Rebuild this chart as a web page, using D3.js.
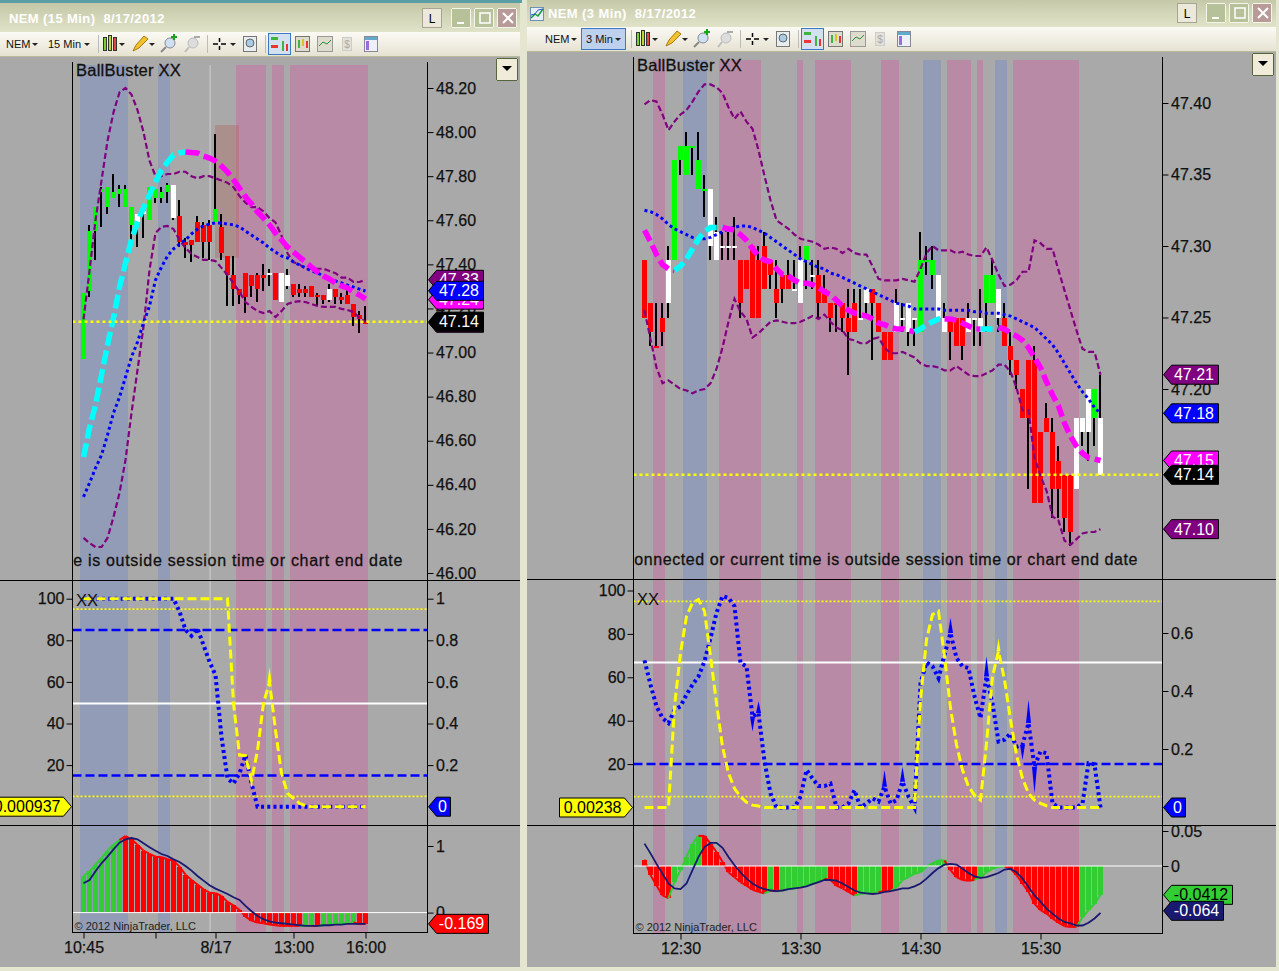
<!DOCTYPE html>
<html>
<head>
<meta charset="utf-8">
<title>NEM charts</title>
<script src="https://d3js.org/d3.v7.min.js"></script>
<style>
  html, body { margin: 0; padding: 0; background: #eef0e0; overflow: hidden; }
  svg { display: block; font-family: "Liberation Sans", Arial, sans-serif; }
  .axis text { font-size: 16px; fill: #111; stroke: #111; stroke-width: 0.25px; }
  .axis line { stroke: #000; }
  .axis path { display: none; }
  .note { stroke: #111; stroke-width: 0.3px; }
</style>
</head>
<body>
<svg id="chart" width="1279" height="971"></svg>
<script>
// ---------- 15 min chart data (one value per bar, 10:45 -> 16:00) ----------
const trend15 = "uuuuuuuuu" + "nn" + "uuuu" + "n" + "dddddd" + "u" + "dddddddd" + "n" + "d" + "nn" + "dddddd" + "n" + "dddddd";
const bodyHi15 = [47.27,47.55,47.66,47.74,47.75,47.73,47.74,47.74,47.66,47.63,47.64,47.75,47.74,47.73,47.76,47.76,47.62,47.50,47.51,47.59,47.58,47.58,47.65,47.57,47.44,47.35,47.29,47.36,47.35,47.35,47.35,47.36,47.36,47.36,47.35,47.31,47.29,47.29,47.30,47.26,47.26,47.29,47.29,47.25,47.26,47.22,47.17,47.14];
const bodyLo15 = [46.97,47.28,47.55,47.73,47.66,47.70,47.72,47.66,47.58,47.59,47.63,47.60,47.70,47.70,47.73,47.61,47.50,47.49,47.49,47.50,47.50,47.50,47.59,47.45,47.35,47.29,47.26,47.25,47.30,47.29,47.34,47.35,47.24,47.23,47.30,47.26,47.27,47.27,47.25,47.25,47.24,47.24,47.25,47.24,47.22,47.16,47.15,47.13];
const high15 = [47.27,47.58,47.66,47.75,47.75,47.81,47.76,47.76,47.66,47.63,47.64,47.75,47.74,47.75,47.77,47.76,47.69,47.52,47.51,47.62,47.59,47.60,47.99,47.63,47.44,47.44,47.29,47.36,47.35,47.36,47.40,47.38,47.36,47.36,47.38,47.31,47.31,47.30,47.30,47.27,47.26,47.31,47.29,47.27,47.29,47.22,47.19,47.21];
const low15 = [46.97,47.25,47.42,47.57,47.63,47.70,47.66,47.66,47.51,47.48,47.52,47.60,47.68,47.68,47.68,47.60,47.48,47.43,47.41,47.50,47.43,47.42,47.59,47.42,47.21,47.21,47.22,47.18,47.25,47.23,47.28,47.30,47.24,47.23,47.29,47.25,47.25,47.25,47.25,47.21,47.22,47.23,47.22,47.22,47.22,47.12,47.09,47.13];
const upper15 = [47.15,47.37,47.60,47.78,47.96,48.09,48.18,48.20,48.17,48.10,48.00,47.87,47.80,47.80,47.81,47.81,47.82,47.82,47.80,47.79,47.80,47.80,47.79,47.78,47.77,47.75,47.71,47.68,47.66,47.66,47.64,47.61,47.59,47.53,47.45,47.41,47.40,47.38,47.38,47.38,47.38,47.37,47.36,47.34,47.34,47.32,47.32,47.33];
const lower15 = [46.159,46.136,46.118,46.118,46.159,46.254,46.363,46.513,46.726,46.921,47.116,47.374,47.542,47.570,47.574,47.560,47.511,47.474,47.447,47.433,47.420,47.420,47.415,47.384,47.352,47.315,47.275,47.229,47.207,47.188,47.179,47.188,47.161,47.188,47.220,47.229,47.233,47.229,47.220,47.211,47.207,47.207,47.207,47.198,47.193,47.184,47.157,47.139];
const slowMa15 = [46.345,46.408,46.476,46.535,46.626,46.726,46.798,46.889,46.98,47.048,47.134,47.211,47.329,47.388,47.438,47.47,47.492,47.511,47.538,47.56,47.574,47.583,47.588,47.588,47.583,47.579,47.57,47.551,47.533,47.515,47.497,47.474,47.456,47.438,47.429,47.411,47.397,47.384,47.37,47.361,47.347,47.334,47.325,47.316,47.306,47.297,47.288,47.279];
const fastMa15 = [46.526,46.658,46.762,46.898,47.034,47.157,47.297,47.406,47.511,47.592,47.656,47.715,47.774,47.828,47.864,47.896,47.905,47.91,47.907,47.905,47.891,47.882,47.869,47.846,47.819,47.783,47.746,47.706,47.674,47.638,47.61,47.579,47.542,47.511,47.479,47.456,47.433,47.411,47.388,47.365,47.347,47.334,47.316,47.302,47.293,47.275,47.261,47.243];
const risingRanges15 = [[0, 17]];
const stochK15 = [100,100,100,100,100,100,100,100,100,100,100,100,100,100,100,100,93.8,85,82.2,85.7,77.7,69.7,63.3,33.6,13.6,11.2,16,24.8,11.2,0,0,0,0,0,0,0,0,0,0,0,0,0,0,0,0,0,0,0];
const stochD15 = [100,100,100,100,100,100,100,100,100,100,100,100,100,100,100,100,100,100,100,100,100,100,100,100,100,49.7,24.8,24.5,12.5,27,49.7,60,36.8,16,6.4,4,1.6,0.6,0,0,0,0,0,0,0,0,0,0];
const stochKTips15 = [];
const stochDTips15 = [[31, 67]];
const macdHist15 = [0.55,0.62,0.72,0.82,0.93,1.02,1.09,1.15,1.10,1.02,0.93,0.88,0.84,0.83,0.80,0.78,0.69,0.57,0.49,0.42,0.35,0.30,0.29,0.25,0.16,0.11,0.04,-0.06,-0.12,-0.15,-0.16,-0.18,-0.19,-0.20,-0.20,-0.20,-0.20,-0.20,-0.20,-0.20,-0.19,-0.18,-0.17,-0.16,-0.16,-0.15,-0.17,-0.169];
const macdUp15 = "uuuuuuu" + "dddddddddddddddddddddddddddddd" + "uu" + "d" + "uuuuuu" + "dd";
const macdLine15 = [0.44,0.49,0.62,0.74,0.84,0.95,1.05,1.10,1.12,1.10,1.04,0.98,0.93,0.88,0.85,0.80,0.76,0.70,0.63,0.55,0.48,0.41,0.36,0.32,0.28,0.23,0.19,0.10,0.02,-0.05,-0.10,-0.13,-0.15,-0.16,-0.17,-0.18,-0.19,-0.20,-0.20,-0.20,-0.19,-0.19,-0.18,-0.18,-0.17,-0.17,-0.17,-0.17];
const blueBands15 = [[-0.5, 7.5], [12.5, 14.5]];
const pinkBands15 = [[25.5, 30.5], [31.5, 33.5], [34.5, 47.5]];
const timeTicks15 = [0, 12, 22, 35, 47];
const timeLabels15 = ["10:45", "", "8/17", "13:00", "16:00"];
const priceTicks15 = [48.2,48.0,47.8,47.6,47.4,47.2,47.0,46.8,46.6,46.4,46.2,46.0];
const flagValues15 = [47.33, 47.24, 47.28, 47.135, 47.14];

// ---------- 3 min chart data (one value per bar, 12:12 -> 16:00) ----------
const trend3 = "dddd" + "n" + "uuuuuu" + "nnnnn" + "ddddddddd" + "nn" + "u" + "n" + "ddddddd" + "nn" + "dddd" + "nnnn" + "uuu" + "nn" + "ddd" + "nnn" + "uu" + "n" + "dddddddddddd" + "nnn" + "u" + "n";
const bodyHi3 = [47.29,47.26,47.23,47.25,47.29,47.36,47.37,47.37,47.37,47.36,47.34,47.34,47.31,47.30,47.30,47.30,47.29,47.29,47.30,47.29,47.30,47.29,47.27,47.28,47.28,47.27,47.29,47.30,47.28,47.28,47.27,47.26,47.26,47.26,47.25,47.26,47.25,47.27,47.27,47.26,47.24,47.24,47.26,47.25,47.26,47.25,47.29,47.29,47.29,47.28,47.25,47.25,47.25,47.25,47.25,47.25,47.25,47.28,47.28,47.27,47.25,47.23,47.22,47.20,47.22,47.22,47.17,47.18,47.17,47.15,47.14,47.14,47.18,47.18,47.20,47.20,47.18];
const bodyLo3 = [47.25,47.24,47.23,47.24,47.26,47.29,47.36,47.35,47.37,47.34,47.34,47.30,47.29,47.30,47.30,47.30,47.26,47.27,47.25,47.25,47.27,47.28,47.26,47.27,47.27,47.27,47.26,47.29,47.28,47.26,47.26,47.25,47.26,47.25,47.24,47.24,47.25,47.26,47.26,47.24,47.22,47.22,47.24,47.25,47.24,47.25,47.24,47.29,47.28,47.25,47.24,47.24,47.23,47.23,47.24,47.25,47.24,47.26,47.26,47.25,47.23,47.22,47.21,47.18,47.18,47.12,47.12,47.17,47.13,47.13,47.11,47.10,47.13,47.17,47.17,47.18,47.14];
const high3 = [47.29,47.26,47.26,47.26,47.30,47.36,47.37,47.38,47.37,47.38,47.35,47.34,47.32,47.31,47.31,47.32,47.29,47.29,47.30,47.30,47.31,47.29,47.29,47.28,47.29,47.29,47.30,47.30,47.29,47.29,47.28,47.26,47.26,47.26,47.27,47.27,47.27,47.27,47.27,47.26,47.24,47.24,47.27,47.26,47.26,47.25,47.31,47.30,47.30,47.28,47.26,47.25,47.25,47.25,47.26,47.25,47.27,47.28,47.29,47.27,47.26,47.24,47.22,47.20,47.22,47.23,47.17,47.19,47.18,47.16,47.14,47.14,47.18,47.18,47.20,47.20,47.21];
const low3 = [47.25,47.23,47.23,47.23,47.25,47.29,47.35,47.35,47.35,47.34,47.32,47.29,47.29,47.29,47.29,47.29,47.25,47.27,47.25,47.25,47.27,47.27,47.25,47.26,47.27,47.27,47.26,47.27,47.27,47.25,47.26,47.24,47.24,47.24,47.21,47.24,47.25,47.25,47.22,47.24,47.22,47.22,47.24,47.24,47.23,47.23,47.24,47.28,47.27,47.25,47.24,47.22,47.23,47.22,47.24,47.23,47.23,47.24,47.26,47.24,47.23,47.21,47.20,47.18,47.13,47.12,47.12,47.17,47.11,47.11,47.10,47.09,47.13,47.16,47.15,47.16,47.14];
const upper3 = [47.399,47.402,47.401,47.392,47.381,47.387,47.392,47.395,47.401,47.408,47.413,47.413,47.411,47.407,47.397,47.389,47.394,47.387,47.382,47.367,47.349,47.332,47.318,47.315,47.312,47.308,47.305,47.304,47.303,47.301,47.298,47.299,47.298,47.295,47.298,47.295,47.294,47.294,47.286,47.277,47.276,47.276,47.276,47.277,47.276,47.275,47.284,47.295,47.300,47.297,47.297,47.297,47.295,47.296,47.294,47.293,47.293,47.299,47.290,47.280,47.272,47.273,47.276,47.282,47.282,47.304,47.302,47.298,47.298,47.283,47.269,47.255,47.241,47.228,47.226,47.226,47.210];
const lower3 = [47.255,47.235,47.215,47.204,47.206,47.203,47.200,47.199,47.197,47.199,47.200,47.204,47.214,47.229,47.247,47.263,47.254,47.249,47.236,47.239,47.243,47.247,47.248,47.247,47.246,47.246,47.247,47.249,47.251,47.249,47.252,47.247,47.243,47.241,47.235,47.234,47.232,47.232,47.235,47.236,47.229,47.225,47.225,47.226,47.224,47.222,47.218,47.216,47.216,47.215,47.213,47.213,47.216,47.213,47.210,47.209,47.209,47.211,47.213,47.217,47.217,47.212,47.201,47.185,47.185,47.152,47.139,47.129,47.111,47.108,47.094,47.091,47.095,47.099,47.100,47.100,47.102];
const slowMa3 = [47.325,47.324,47.322,47.319,47.315,47.312,47.310,47.308,47.306,47.305,47.305,47.306,47.308,47.310,47.312,47.313,47.314,47.314,47.313,47.311,47.309,47.306,47.303,47.300,47.297,47.294,47.291,47.289,47.287,47.285,47.284,47.281,47.280,47.278,47.276,47.274,47.272,47.270,47.268,47.266,47.264,47.262,47.260,47.259,47.258,47.256,47.256,47.256,47.256,47.256,47.255,47.255,47.255,47.255,47.255,47.254,47.254,47.253,47.253,47.253,47.252,47.251,47.249,47.247,47.245,47.243,47.239,47.235,47.231,47.225,47.218,47.211,47.204,47.198,47.193,47.187,47.183];
const fastMa3 = [47.311,47.303,47.294,47.287,47.284,47.283,47.286,47.291,47.298,47.305,47.310,47.313,47.313,47.313,47.312,47.311,47.308,47.304,47.298,47.293,47.290,47.289,47.284,47.280,47.279,47.276,47.274,47.274,47.273,47.271,47.268,47.266,47.262,47.258,47.255,47.253,47.252,47.251,47.249,47.246,47.245,47.243,47.242,47.242,47.241,47.240,47.242,47.245,47.247,47.249,47.249,47.249,47.248,47.246,47.244,47.242,47.242,47.242,47.242,47.243,47.242,47.239,47.237,47.234,47.229,47.222,47.215,47.205,47.196,47.188,47.176,47.167,47.160,47.155,47.152,47.151,47.150];
const risingRanges3 = [[5, 13], [45, 50], [56, 59]];
const stochK3 = [67.8,56.6,46.6,41.2,38.9,45,46.6,52,56.6,60.4,67.4,78,89.7,97.4,96.6,92.8,66.6,65,41.9,43.5,21.2,6.5,0,0,0,0,5,17.3,13.4,9.9,9.9,11,0,0,1.9,8,0,1.9,4.2,2.7,9.6,1.9,3.4,11.9,5,0,57.3,66.9,65,59.6,70.4,80.4,68.9,65,64.3,51.2,41.2,60.4,48,30.4,31.2,34.2,28,28.9,38.9,18.8,25.8,25,1.9,0,0,0,0,1.9,20.4,19.9,0];
const stochD3 = [0,0,0,0,0,46.6,71.2,88.1,94.3,95.8,90.5,69.7,48.1,28,15.8,8.8,5,2.4,1.1,0.7,0,0,0,0,0,0,0,0,0,0,0,0,0,0,0,0,0,0,0,0,0,0,0,0,0,0,49.6,77.4,88.9,90.5,69.7,45.8,28.9,17.3,9.6,5.7,3.4,29.6,60.4,72,58.9,40.4,24.2,13.4,6.5,3.4,1.9,0.8,0,0,0,0,0,0,0,0,0];
const stochKTips3 = [[18, 35], [19, 49], [40, 17.3], [43, 18.8], [51, 87.4], [57, 69.7], [63, 21.9], [64, 49.6], [65, 6.5]];
const stochDTips3 = [[59, 78]];
const macdHist3 = [0.009,-0.013,-0.028,-0.042,-0.046,-0.023,-0.006,0.013,0.032,0.043,0.043,0.032,0.02,0.006,-0.009,-0.016,-0.023,-0.028,-0.034,-0.037,-0.039,-0.035,-0.036,-0.035,-0.033,-0.032,-0.03,-0.028,-0.025,-0.023,-0.018,-0.02,-0.028,-0.032,-0.037,-0.042,-0.04,-0.039,-0.039,-0.037,-0.036,-0.036,-0.03,-0.02,-0.016,-0.011,-0.009,-0.001,0.004,0.008,0.008,-0.006,-0.016,-0.02,-0.021,-0.02,-0.016,-0.009,-0.004,-0.001,-0.0005,-0.004,-0.013,-0.025,-0.037,-0.054,-0.063,-0.068,-0.075,-0.081,-0.086,-0.087,-0.087,-0.073,-0.063,-0.054,-0.0412];
const macdUp3 = "ddddd" + "uuuuu" + "ddddddddddd" + "u" + "d" + "uuuuuuuu" + "ddddd" + "uuuu" + "dd" + "uuuuuuuuu" + "ddddd" + "uuuuu" + "dddddddddddd" + "uuuu";
const macdLine3 = [0.032,0.018,0.003,-0.011,-0.025,-0.032,-0.033,-0.025,-0.006,0.013,0.027,0.033,0.033,0.026,0.013,0.001,-0.009,-0.018,-0.025,-0.03,-0.033,-0.035,-0.036,-0.035,-0.033,-0.032,-0.031,-0.029,-0.026,-0.023,-0.02,-0.02,-0.021,-0.025,-0.03,-0.035,-0.038,-0.039,-0.04,-0.039,-0.037,-0.036,-0.034,-0.032,-0.032,-0.029,-0.025,-0.018,-0.01,-0.003,0.002,0.003,0.002,-0.004,-0.01,-0.015,-0.017,-0.016,-0.013,-0.01,-0.005,-0.004,-0.009,-0.018,-0.03,-0.042,-0.051,-0.061,-0.068,-0.075,-0.08,-0.082,-0.085,-0.085,-0.081,-0.075,-0.067];
const blueBands3 = [[6.5, 10.5], [46.5, 49.5], [58.5, 60.5]];
const pinkBands3 = [[1.5, 3.5], [12.5, 19.5], [25.5, 26.5], [28.5, 34.5], [39.5, 42.5], [50.5, 54.5], [55.5, 56.5], [61.5, 72.5]];
const timeTicks3 = [6, 26, 46, 66];
const timeLabels3 = ["12:30", "13:30", "14:30", "15:30"];
const priceTicks3 = [47.40, 47.35, 47.30, 47.25, 47.20];
const flagValues3 = [47.21, 47.102, 47.183, 47.15, 47.14];

const flagColors = ["#800080", "#800080", "#0000ff", "#ff00ff", "#000"];
const flagOrder15 = ["#800080", "#ff00ff", "#0000ff", "#800080", "#000"];

const BG = "#a9a9a9";
const PINK = "#b88aa5";
const BLUE_BAND = "#929cb6";
const bodyColor = { u: "#00ff00", d: "#ff0000", n: "#ffffff" };
const histColor = { u: "#32cd32", d: "#ff0000" };

const svg = d3.select("#chart");

const defs = svg.append("defs");
const titleGrad = defs.append("linearGradient").attr("id", "title-grad").attr("x2", 0).attr("y2", 1);
titleGrad.append("stop").attr("offset", 0).attr("stop-color", "#c3c7a6");
titleGrad.append("stop").attr("offset", 1).attr("stop-color", "#e1e3c9");
const toolGrad = defs.append("linearGradient").attr("id", "tool-grad").attr("x2", 0).attr("y2", 1);
toolGrad.append("stop").attr("offset", 0).attr("stop-color", "#fbfaf4");
toolGrad.append("stop").attr("offset", 1).attr("stop-color", "#e6e2d2");

function box(g, x, y, w, h, fill, stroke) {
  return g.append("rect").attr("x", x).attr("y", y).attr("width", w).attr("height", h)
    .attr("fill", fill).attr("stroke", stroke || "none").attr("shape-rendering", "crispEdges");
}

// Window frame, toolbar and the little icons. Nothing here is chart data.
function drawChrome(o) {
  const g = svg.append("g").attr("class", "chrome");
  box(g, o.x0, o.y, o.x1 - o.x0, 29, "url(#title-grad)");
  box(g, o.x0, o.y + 29, o.x1 - o.x0, 24.5, "url(#tool-grad)");
  g.append("line").attr("x1", o.x0).attr("x2", o.x1).attr("y1", o.y + 53.5).attr("y2", o.y + 53.5).attr("stroke", "#b9b99c");
  box(g, o.x0, o.y + 54, o.x1 - o.x0, 971 - o.y - 54 - 4, BG);

  g.append("text").attr("x", o.titleX).attr("y", o.y + 20).attr("fill", "#fff")
    .attr("font-size", 13).attr("font-weight", "bold").attr("letter-spacing", 0.4).attr("xml:space", "preserve")
    .text(o.title);

  if (o.hasIcon) {
    box(g, o.x0 + 3.5, o.y + 9.5, 13, 13, "#e8edf4", "#6f8fb5");
    g.append("path").attr("d", `M${o.x0 + 4},${o.y + 20}l4,-4l3,2l5,-7`).attr("stroke", "#1a9a3a").attr("fill", "none").attr("stroke-width", 1.5);
    g.append("path").attr("d", `M${o.x0 + 4},${o.y + 17}l4,-1l3,-4l5,-1`).attr("stroke", "#2a5ad0").attr("fill", "none");
  }

  // L / min / max / close
  box(g, o.lx + 0.5, o.y + 5.5, 19, 19, "#ece9da", "#a5a594");
  g.append("text").attr("x", o.lx + 10).attr("y", o.y + 20).attr("font-size", 12).attr("text-anchor", "middle").text("L");
  [0, 23, 46].forEach((dx, k) => {
    const fill = k === 2 ? "#b89a98" : "#b6c19a";
    box(g, o.lx + 29.5 + dx, o.y + 5.5, 19, 19, fill, "#f4f6ea").attr("rx", 2);
  });
  box(g, o.lx + 35, o.y + 19, 7, 2, "#fff");
  g.append("rect").attr("x", o.lx + 58).attr("y", o.y + 10).attr("width", 10).attr("height", 10)
    .attr("fill", "none").attr("stroke", "#fff").attr("stroke-width", 1.5);
  g.append("path").attr("d", `M${o.lx + 81},${o.y + 10}l10,10m0,-10l-10,10`).attr("stroke", "#fff").attr("stroke-width", 2);

  // toolbar
  const tb = o.y + 29, mid = tb + 12;
  const tx = svg.append("g").attr("font-size", 11).attr("fill", "#111");
  tx.append("text").attr("x", o.nemX).attr("y", mid + 4).text("NEM");
  if (o.tfSelected) box(g, o.tfX - 4.5, tb + 1.5, 44, 21, "#bdd1ee", "#3b78c6");
  tx.append("text").attr("x", o.tfX).attr("y", mid + 4).text(o.tf);
  const caret = (x) => g.append("path").attr("d", `M${x},${mid - 1}h6l-3,3z`).attr("fill", "#222");
  caret(o.nemX + 26); caret(o.tfX + (o.tfSelected ? 29 : 36));
  const d = o.iconDx;
  [98, 207, 265].forEach((sx) => box(g, d + sx, mid - 9, 1, 18, "#bbb"));
  box(g, d + 103, mid - 7, 3, 13, "#7ad12e", "#333"); box(g, d + 108, mid - 9, 3, 15, "#b6d92f", "#333"); box(g, d + 113, mid - 7, 3, 13, "#e14b3b", "#333");
  caret(d + 119);
  g.append("path").attr("d", `M${d + 133},${mid + 7}l3,-6l8,-9l4,3l-9,9z`).attr("fill", "#f2c12e").attr("stroke", "#a97a10");
  caret(d + 149);
  g.append("circle").attr("cx", d + 170).attr("cy", mid - 1).attr("r", 5).attr("fill", "#cfe0f0").attr("stroke", "#889");
  g.append("line").attr("x1", d + 166).attr("y1", mid + 3).attr("x2", d + 161).attr("y2", mid + 8).attr("stroke", "#888").attr("stroke-width", 2);
  g.append("path").attr("d", `M${d + 171},${mid - 7}h6m-3,-3v6`).attr("stroke", "#1ba31b").attr("stroke-width", 2);
  g.append("circle").attr("cx", d + 193).attr("cy", mid - 1).attr("r", 5).attr("fill", "#ddd").attr("stroke", "#bbb");
  g.append("line").attr("x1", d + 189).attr("y1", mid + 3).attr("x2", d + 185).attr("y2", mid + 8).attr("stroke", "#bbb").attr("stroke-width", 2);
  g.append("path").attr("d", `M${d + 194},${mid - 7}h6`).attr("stroke", "#aaa").attr("stroke-width", 2);
  g.append("path").attr("d", `M${d + 213},${mid}h5m3,0h5m-6.500,-6v4m0,4v4`).attr("stroke", "#000").attr("stroke-width", 1.5);
  caret(d + 230);
  box(g, d + 243.5, mid - 7.5, 13, 15, "#e8edf0", "#777");
  g.append("circle").attr("cx", d + 250).attr("cy", mid - 1).attr("r", 4).attr("fill", "#a9cbe6").attr("stroke", "#666");
  box(g, d + 268.5, mid - 10.5, 22, 21, "#d3e0f0", "#3b78c6");
  box(g, d + 271, mid - 7, 7, 3, "#3fb53f"); box(g, d + 271, mid + 1, 7, 3, "#e33"); box(g, d + 282, mid - 3, 2, 10, "#3fb53f"); box(g, d + 286, mid, 2, 7, "#e33");
  box(g, d + 295.5, mid - 7.500, 14, 15, "#dedccc", "#777");
  box(g, d + 298, mid - 4, 2, 8, "#3fb53f"); box(g, d + 302, mid - 5, 2, 7, "#d9c12e"); box(g, d + 306, mid - 3, 2, 7, "#e33");
  box(g, d + 317.5, mid - 7.500, 15, 15, "#dedccc", "#999");
  g.append("path").attr("d", `M${d + 319},${mid + 2}l4,-4l4,2l4,-4`).attr("stroke", "#2a8f3a").attr("fill", "none");
  box(g, d + 342.5, mid - 6.5, 9, 13, "#e2e2d6", "#ccc");
  g.append("text").attr("x", d + 347).attr("y", mid + 4).attr("font-size", 10).attr("text-anchor", "middle").attr("fill", "#aaa").text("$");
  box(g, d + 364.5, mid - 7.500, 13, 15, "#eef0f8", "#889");
  box(g, d + 365, mid - 7, 12, 3, "#62a9cc"); box(g, d + 366, mid - 3, 3, 9, "#9a6ce0");

  // collapse button sitting on the chart
  box(g, o.menuX + 0.5, o.y + 55.5, 21, 22, "#f0ecd9", "#55663a").attr("rx", 2);
  g.append("path").attr("d", `M${o.menuX + 6},${o.y + 63}h10l-5,5z`).attr("fill", "#000");
}

function drawFlagLeft(parent, x, y, w, fill, label, textFill) {
  parent.append("path")
    .attr("d", `M${x},${y}l8,-9.500h${w - 8}v19h${-(w - 8)}z`)
    .attr("fill", fill).attr("stroke", "#000");
  parent.append("text").attr("x", x + 8 + (w - 10) / 2).attr("y", y + 5.5)
    .attr("text-anchor", "middle").attr("font-size", 16).attr("fill", textFill || "#fff").text(label);
}

function drawFlagRight(parent, x, y, w, fill, label) {
  parent.append("path")
    .attr("d", `M${x},${y}l-8,-9.500h${-(w - 8)}v19h${w - 8}z`)
    .attr("fill", fill).attr("stroke", "#000");
  parent.append("text").attr("x", x - 11).attr("y", y + 5.5)
    .attr("text-anchor", "end").attr("font-size", 16).attr("fill", "#000").text(label);
}

function dashedPath(parent, xScale, yScale, values, color, width, dash) {
  const line = d3.line().x((v, i) => xScale(i)).y((v) => yScale(v));
  return parent.append("path").attr("d", line(values)).attr("fill", "none")
    .attr("stroke", color).attr("stroke-width", width)
    .attr("stroke-dasharray", dash).attr("stroke-linejoin", "miter").attr("stroke-miterlimit", 10);
}

function drawChart(o) {
  const g = svg.append("g").attr("class", "chart");
  const x = d3.scaleLinear().domain(o.xDomain).range(o.xRange);
  const yPrice = d3.scaleLinear().domain(o.priceDomain).range(o.priceRange);
  const yStoch = d3.scaleLinear().domain([100, 0]).range(o.stochRange);
  const yStochFrac = d3.scaleLinear().domain(o.fracDomain).range(o.fracRange);
  const yMacd = d3.scaleLinear().domain(o.macdDomain).range(o.macdRange);
  const bx = (i) => x(i) - 0.5;

  // session shading runs through all three panels
  const bands = g.append("g").attr("shape-rendering", "crispEdges");
  bands.selectAll(".blue").data(o.blueBands).join("rect").attr("class", "blue")
    .attr("x", (d) => bx(d[0])).attr("width", (d) => bx(d[1]) - bx(d[0]))
    .attr("y", o.bandTop).attr("height", o.bottom - o.bandTop).attr("fill", BLUE_BAND);
  bands.selectAll(".pink").data(o.pinkBands).join("rect").attr("class", "pink")
    .attr("x", (d) => bx(d[0])).attr("width", (d) => bx(d[1]) - bx(d[0]))
    .attr("y", o.bandTop).attr("height", o.bottom - o.bandTop).attr("fill", PINK);

  if (o.sessionBar !== undefined) {
    g.append("line").attr("x1", bx(o.sessionBar) + 0.5).attr("x2", bx(o.sessionBar) + 0.5)
      .attr("y1", o.bandTop).attr("y2", o.bottom).attr("stroke", "#cfcfcf");
  }
  if (o.boxBars) {
    g.append("rect").attr("x", bx(o.boxBars[0])).attr("width", bx(o.boxBars[1]) - bx(o.boxBars[0]))
      .attr("y", yPrice(o.boxPrices[0])).attr("height", yPrice(o.boxPrices[1]) - yPrice(o.boxPrices[0]))
      .attr("fill", "#b05a55").attr("opacity", 0.32).attr("shape-rendering", "crispEdges");
  }

  // candles
  const bars = g.append("g").attr("shape-rendering", "crispEdges");
  bars.selectAll(".wick").data(o.high).join("rect").attr("class", "wick")
    .attr("x", (d, i) => Math.floor(x(i)) - 1).attr("width", 2)
    .attr("y", (d) => yPrice(d)).attr("height", (d, i) => yPrice(o.low[i]) - yPrice(d)).attr("fill", "#000");
  bars.selectAll(".body").data(o.bodyHi).join("rect").attr("class", "body")
    .attr("x", (d, i) => x(i) - 2.5).attr("width", 5)
    .attr("y", (d) => yPrice(d)).attr("height", (d, i) => Math.max(2, yPrice(o.bodyLo[i]) - yPrice(d)))
    .attr("fill", (d, i) => bodyColor[o.trend[i]]);

  // bands + moving averages
  dashedPath(g, x, yPrice, o.upper, "#800080", 2.2, "6,3");
  dashedPath(g, x, yPrice, o.lower, "#800080", 2.2, "6,3");
  dashedPath(g, x, yPrice, o.slowMa, "#0000ff", 3, "3,3");
  const rising = (i) => o.risingRanges.some((r) => i >= r[0] && i < r[1]);
  let start = 0;
  for (let i = 1; i <= o.fastMa.length; i++) {
    if (i === o.fastMa.length || rising(i) !== rising(start)) {
      const last = Math.min(i, o.fastMa.length - 1);
      const line = d3.line().x((d) => x(d)).y((d) => yPrice(o.fastMa[d]));
      g.append("path").attr("d", line(d3.range(start, last + 1))).attr("fill", "none")
        .attr("stroke", rising(start) ? "#00ffff" : "#ff00ff").attr("stroke-width", 5.5)
        .attr("stroke-dasharray", o.fastDash);
      start = i;
    }
  }
  g.append("line").attr("x1", o.axisL).attr("x2", o.axisR).attr("y1", yPrice(o.lastPrice)).attr("y2", yPrice(o.lastPrice))
    .attr("stroke", "#ffff00").attr("stroke-width", 2.5).attr("stroke-dasharray", "3,3");

  // stochastic levels
  const hline = (y, color, width, dash) => g.append("line").attr("x1", o.axisL).attr("x2", o.axisR)
    .attr("y1", y).attr("y2", y).attr("stroke", color).attr("stroke-width", width).attr("stroke-dasharray", dash || null);
  hline(yStoch(95), "#ffff00", 1.8, "2,2");
  hline(yStoch(5), "#ffff00", 1.8, "2,2");
  o.blueLevels.forEach((v) => hline(yStoch(v), "#0000ff", 2.5, "9,4"));
  hline(Math.round(yStoch(o.midLevel)) + 0.5, "#fff", 2);
  dashedPath(g, x, yStoch, o.stochK, "#0000ff", 4, "3,3.2");
  g.selectAll(".ktip").data(o.stochKTips).join("path").attr("class", "ktip")
    .attr("d", (d) => `M${x(d[0]) - 2.5},${yStoch(o.stochK[d[0]])}L${x(d[0])},${yStoch(d[1])}L${x(d[0]) + 2.5},${yStoch(o.stochK[d[0]])}z`)
    .attr("fill", "#0000ff");
  dashedPath(g, x, yStoch, o.stochD, "#ffff00", 3, "9,4");
  g.selectAll(".dtip").data(o.stochDTips).join("path").attr("class", "dtip")
    .attr("d", (d) => `M${x(d[0]) - 2},${yStoch(o.stochD[d[0]])}L${x(d[0])},${yStoch(d[1])}L${x(d[0]) + 2},${yStoch(o.stochD[d[0]])}z`)
    .attr("fill", "#ffff00");

  // macd histogram
  const hist = g.append("g").attr("shape-rendering", "crispEdges");
  hist.selectAll("rect").data(o.macdHist).join("rect")
    .attr("x", (d, i) => x(i) - 2.5).attr("width", 5)
    .attr("y", (d) => Math.min(yMacd(d), yMacd(0)))
    .attr("height", (d) => Math.abs(yMacd(d) - yMacd(0)))
    .attr("fill", (d, i) => histColor[o.macdUp[i]]);
  g.selectAll(".hist-edge").data(d3.range(1, o.macdHist.length)).join("line").attr("class", "hist-edge")
    .attr("x1", (i) => x(i - 1)).attr("x2", (i) => x(i))
    .attr("y1", (i) => yMacd(o.macdHist[i - 1])).attr("y2", (i) => yMacd(o.macdHist[i]))
    .attr("stroke", (i) => histColor[o.macdUp[i]]).attr("stroke-width", 2);
  g.append("line").attr("x1", o.axisL).attr("x2", o.axisR).attr("y1", yMacd(0)).attr("y2", yMacd(0)).attr("stroke", "#fff");
  dashedPath(g, x, yMacd, o.macdLine, "#191970", 1.8, null);

  // panel frame
  const crisp = g.append("g").attr("stroke", "#000").attr("shape-rendering", "crispEdges");
  crisp.append("line").attr("x1", o.axisL).attr("x2", o.axisL).attr("y1", o.top).attr("y2", o.bottom);
  crisp.append("line").attr("x1", o.axisR).attr("x2", o.axisR).attr("y1", o.top).attr("y2", o.bottom);
  o.seps.forEach((y) => crisp.append("line").attr("x1", o.sepX[0]).attr("x2", o.sepX[1]).attr("y1", y).attr("y2", y));
  crisp.append("line").attr("x1", o.axisL).attr("x2", o.axisR).attr("y1", o.bottom).attr("y2", o.bottom);

  // axes
  const axisPad = 2.5;
  g.append("g").attr("class", "axis").attr("transform", `translate(${o.axisR},0)`)
    .call(d3.axisRight(yPrice).tickValues(o.priceTicks).tickFormat(d3.format(".2f")).tickSize(6).tickPadding(axisPad));
  g.append("g").attr("class", "axis").attr("transform", `translate(${o.axisL},0)`)
    .call(d3.axisLeft(yStoch).tickValues([100, 80, 60, 40, 20]).tickFormat(d3.format("d")).tickSize(6).tickPadding(2));
  g.append("g").attr("class", "axis").attr("transform", `translate(${o.axisR},0)`)
    .call(d3.axisRight(yStochFrac).tickValues(o.fracTicks).tickFormat((d) => String(d)).tickSize(6).tickPadding(axisPad));
  g.append("g").attr("class", "axis").attr("transform", `translate(${o.axisR},0)`)
    .call(d3.axisRight(yMacd).tickValues(o.macdTicks).tickFormat((d) => String(d)).tickSize(6).tickPadding(axisPad));
  g.append("g").attr("class", "axis").attr("transform", `translate(0,${o.bottom})`)
    .call(d3.axisBottom(x).tickValues(o.timeTicks).tickFormat((d, i) => o.timeLabels[i]).tickSize(6).tickPadding(3));

  // notes
  g.append("text").attr("class", "note").attr("x", o.axisL + 3.5).attr("y", o.top + 14).attr("font-size", 16.5).attr("letter-spacing", 0.25).attr("fill", "#111").text("BallBuster XX");
  g.append("text").attr("x", o.axisL + 3.5).attr("y", o.xxY).attr("font-size", 16.5).attr("fill", "#111").text("XX");
  g.append("text").attr("class", "note").attr("x", o.noteEnd).attr("y", o.noteY).attr("text-anchor", "end").attr("font-size", 16)
    .attr("letter-spacing", o.noteSpacing).attr("fill", "#111").text(o.note);
  g.append("text").attr("x", o.axisL + 2).attr("y", o.bottom - 3).attr("font-size", 11).attr("fill", "#222").text("© 2012 NinjaTrader, LLC");

  // value flags
  o.flagValues.forEach((v, k) => {
    drawFlagLeft(g, o.axisR + 1, yPrice(v), 55, o.flagColors[k], v.toFixed(2));
  });
  drawFlagLeft(g, o.axisR + 1, yStoch(0), 22, "#0000ff", "0");
  o.macdFlags.forEach((f) => drawFlagLeft(g, o.axisR + 1, yMacd(f.value), f.w, f.fill, f.label, f.text));
  drawFlagRight(g, o.axisL - 1, yStoch(0), o.stochFlagW, "#ffff00", o.stochFlag);
}

svg.append("rect").attr("width", 1279).attr("height", 971).attr("fill", "#e4e6d0");
svg.append("rect").attr("width", 522).attr("height", 3).attr("fill", "#5b9fa6");

drawChrome({ x0: 0, x1: 520, y: 3, title: "NEM (15 Min)  8/17/2012", titleX: 9, lx: 422, nemX: 6, tfX: 48, tf: "15 Min", tfSelected: false, iconDx: 0, menuX: 496 });
drawChrome({ x0: 527, x1: 1276, y: -2, title: "NEM (3 Min)  8/17/2012", titleX: 548, lx: 1177, nemX: 545, tfX: 586, tf: "3 Min", tfSelected: true, iconDx: 533, menuX: 1252, hasIcon: true });

drawChart({
  xDomain: [0, 47], xRange: [83.5, 365.5],
  priceDomain: [48.2, 46.0], priceRange: [88, 573],
  stochRange: [598.7, 806.7], fracDomain: [1, 0], fracRange: [598.7, 806.7],
  macdDomain: [1, 0], macdRange: [846, 912.6],
  axisL: 72.5, axisR: 427.5, top: 62, bottom: 932.5, bandTop: 65,
  seps: [580.5, 825.5], sepX: [0, 520], xxY: 606, noteEnd: 403, noteY: 566, noteSpacing: 0.7,
  note: "e is outside session time or chart end date", sessionBar: 21.1,
  boxBars: [22, 26], boxPrices: [48.03, 47.43],
  blueBands: blueBands15, pinkBands: pinkBands15,
  trend: trend15, bodyHi: bodyHi15, bodyLo: bodyLo15, high: high15, low: low15,
  upper: upper15, lower: lower15, slowMa: slowMa15, fastMa: fastMa15, risingRanges: risingRanges15, fastDash: "14,5",
  lastPrice: 47.14, blueLevels: [85, 15], midLevel: 50,
  stochK: stochK15, stochD: stochD15, stochKTips: stochKTips15, stochDTips: stochDTips15,
  macdHist: macdHist15, macdUp: macdUp15, macdLine: macdLine15,
  priceTicks: priceTicks15, fracTicks: [1, 0.8, 0.6, 0.4, 0.2], macdTicks: [1, 0],
  timeTicks: timeTicks15, timeLabels: timeLabels15,
  flagValues: flagValues15, flagColors: flagOrder15,
  macdFlags: [{ value: -0.169, w: 60, fill: "#ff0000", label: "-0.169" }],
  stochFlag: "0.000937", stochFlagW: 80
});

drawChart({
  xDomain: [0, 76], xRange: [644.5, 1100.5],
  priceDomain: [47.40, 47.20], priceRange: [103, 389],
  stochRange: [590.5, 807.5], fracDomain: [0.6, 0], fracRange: [633, 807],
  macdDomain: [0.05, 0], macdRange: [831, 866],
  axisL: 633.5, axisR: 1162.5, top: 57, bottom: 933.5, bandTop: 60,
  seps: [579.5, 825.5], sepX: [527, 1276], xxY: 605, noteEnd: 1138, noteY: 565, noteSpacing: 0.6,
  note: "onnected or current time is outside session time or chart end date",
  blueBands: blueBands3, pinkBands: pinkBands3,
  trend: trend3, bodyHi: bodyHi3, bodyLo: bodyLo3, high: high3, low: low3,
  upper: upper3, lower: lower3, slowMa: slowMa3, fastMa: fastMa3, risingRanges: risingRanges3, fastDash: "12,5",
  lastPrice: 47.14, blueLevels: [20], midLevel: 67,
  stochK: stochK3, stochD: stochD3, stochKTips: stochKTips3, stochDTips: stochDTips3,
  macdHist: macdHist3, macdUp: macdUp3, macdLine: macdLine3,
  priceTicks: priceTicks3, fracTicks: [0.6, 0.4, 0.2], macdTicks: [0.05, 0],
  timeTicks: timeTicks3, timeLabels: timeLabels3,
  flagValues: flagValues3, flagColors: flagColors,
  macdFlags: [{ value: -0.0412, w: 69, fill: "#32cd32", label: "-0.0412", text: "#000" }, { value: -0.064, w: 60, fill: "#191970", label: "-0.064" }],
  stochFlag: "0.00238", stochFlagW: 73
});
</script>
</body>
</html>
